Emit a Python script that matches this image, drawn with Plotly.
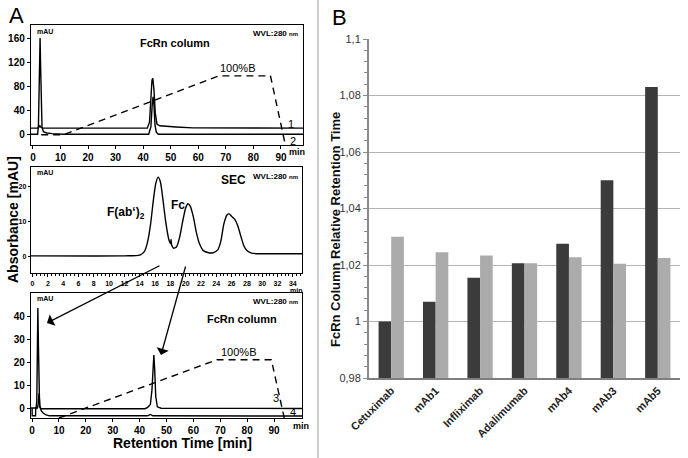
import plotly.graph_objects as go

W, H = 688, 458

# ---- panel A, top chromatogram (FcRn column), times in min, absorbance in mAU
top1_t = [-0.7, 1.8, 2.2, 2.5, 2.8, 3.3, 4.0, 41.5, 42.3, 42.8, 43.2, 43.5, 43.9, 44.4, 45.0, 46.0, 48.0, 52.0, 58.0, 98.0]
top1_v = [10, 10, 12, 14, 12, 10.5, 10, 10, 20, 60, 90, 93, 75, 35, 17, 14, 13, 12, 10.5, 10]
top2_t = [-0.7, 1.7, 2.0, 2.2, 2.4, 2.6, 2.8, 3.0, 3.3, 3.8, 5.0, 7.0, 9.0, 11.0, 42.0, 42.8, 43.3, 43.6, 43.9, 44.3, 44.8, 45.5, 98.0]
top2_v = [0, 0, 15, 80, 150, 160, 110, 45, 12, 4, 2, 1, 0.5, 0, 0, 12, 50, 62, 50, 15, 3, 0, 0]
top_grad_t = [3.0, 11.0, 67.4, 86.2, 91.6]
top_grad_v = [-1, -1, 97, 97, -18]

# ---- panel A, middle chromatogram (SEC)
sec_t = [-0.2, 12.0, 14.0, 14.6, 15.0, 15.4, 15.8, 16.1, 16.4, 16.7, 17.0, 17.4, 17.8, 18.05, 18.1, 18.15,
         18.4, 18.8, 19.2, 19.6, 20.0, 20.3, 20.6, 21.0, 21.4, 21.8, 22.3, 23.0, 23.6, 24.2, 24.6, 25.0,
         25.4, 25.7, 26.0, 26.4, 26.8, 27.2, 27.6, 28.0, 28.6, 29.5, 31.0, 35.2]
sec_v = [0.3, 0.3, 0.5, 1.5, 4.0, 9.0, 16.5, 21.0, 22.8, 21.5, 17.0, 10.0, 5.0, 3.8, 5.0, 3.6,
         2.5, 2.8, 5.5, 10.0, 14.0, 15.2, 14.5, 11.5, 7.0, 3.8, 1.8, 1.2, 1.2, 2.0, 4.5, 9.5,
         12.0, 12.3, 11.6, 10.8, 9.0, 6.0, 3.2, 1.8, 1.1, 0.9, 0.9, 0.9]

# ---- panel A, bottom chromatogram (FcRn column)
bot3_t = [-0.4, 1.5, 1.75, 1.95, 2.15, 2.35, 2.55, 2.8, 3.2, 42.0, 43.0, 44.0, 44.6, 45.0, 45.3, 45.6, 46.0, 46.6, 48.0, 100.4]
bot3_v = [0, 0, 3, 25, 43.5, 28, 8, 0.5, -0.3, -0.3, 0.3, 1.5, 8, 18, 23, 17, 5, 0.5, -0.1, -0.2]
bot4_t = [0.0, 0.05, 1.3, 1.35, 2.0, 2.3, 2.6, 2.9, 3.4, 4.2, 5.2, 6.5, 43.0, 44.0, 45.0, 100.4]
bot4_v = [0, -3.4, -3.4, 0, 0, 2, 6.5, 1, -1.2, -2.3, -3.0, -3.4, -3.4, -2.8, -3.4, -3.5]
bot_grad_t = [10.0, 68.8, 89.0, 93.8]
bot_grad_v = [-4.35, 21, 21, -4.35]

# ---- panel B, relative retention times
antibodies = ["Cetuximab", "mAb1", "Infliximab", "Adalimumab", "mAb4", "mAb3", "mAb5"]
rrt_dark = [1.000, 1.007, 1.0155, 1.0206, 1.0275, 1.050, 1.083]
rrt_light = [1.030, 1.0245, 1.0234, 1.0206, 1.0227, 1.0204, 1.0225]


def px(x):
    return x / W


def py(y):
    return 1 - y / H


FONT = "Arial, Liberation Sans, sans-serif"
line_k = dict(color="black", width=1.4)
dash_k = dict(color="black", width=1.4, dash="7px,5px")

fig = go.Figure()
fig.add_trace(go.Scatter(x=top1_t, y=top1_v, mode="lines", line=line_k, xaxis="x", yaxis="y"))
fig.add_trace(go.Scatter(x=top2_t, y=top2_v, mode="lines", line=line_k, xaxis="x", yaxis="y"))
fig.add_trace(go.Scatter(x=top_grad_t, y=top_grad_v, mode="lines", line=dash_k, xaxis="x", yaxis="y"))
fig.add_trace(go.Scatter(x=sec_t, y=sec_v, mode="lines", line=dict(color="black", width=1.4, shape="spline", smoothing=0.6),
                         xaxis="x2", yaxis="y2"))
fig.add_trace(go.Scatter(x=bot3_t, y=bot3_v, mode="lines", line=line_k, xaxis="x3", yaxis="y3"))
fig.add_trace(go.Scatter(x=bot4_t, y=bot4_v, mode="lines", line=line_k, xaxis="x3", yaxis="y3"))
fig.add_trace(go.Scatter(x=bot_grad_t, y=bot_grad_v, mode="lines", line=dash_k, xaxis="x3", yaxis="y3"))

fig.add_trace(go.Bar(x=antibodies, y=[v - 0.98 for v in rrt_dark], base=0.98, marker=dict(color="#3b3b3b", line=dict(width=0)),
                     xaxis="x4", yaxis="y4"))
fig.add_trace(go.Bar(x=antibodies, y=[v - 0.98 for v in rrt_light], base=0.98, marker=dict(color="#ababab", line=dict(width=0)),
                     xaxis="x4", yaxis="y4"))

bold_tick = dict(family=FONT, size=10, color="black", weight="bold")
box = dict(showline=True, mirror=True, linecolor="black", linewidth=1.4, showgrid=False, zeroline=False,
           ticks="outside", ticklen=3, tickcolor="black", tickfont=bold_tick)

fig.update_layout(
    width=W, height=H, margin=dict(l=0, r=0, t=0, b=0, autoexpand=False),
    paper_bgcolor="white", plot_bgcolor="white", showlegend=False,
    barmode="group", bargap=0.43, bargroupgap=0, separators=",.",
    font=dict(family=FONT),
    xaxis=dict(domain=[px(31), px(303)], range=[-0.7, 98], tickvals=list(range(0, 100, 10)), anchor="y", **box),
    yaxis=dict(domain=[py(145), py(25)], range=[-18, 181.7], tickvals=[0, 40, 80, 120, 160], anchor="x", **box),
    xaxis2=dict(domain=[px(31), px(302)], range=[-0.2, 35.2], tickvals=list(range(0, 35, 2)), anchor="y2",
                minor=dict(dtick=0.5, ticks="outside", ticklen=2, tickcolor="black"),
                **{**box, "tickfont": dict(family=FONT, size=7, color="black", weight="bold")}),
    yaxis2=dict(domain=[py(273), py(167)], range=[-4.6, 25.7], tickvals=[0, 10, 20], anchor="x2",
                **{**box, "ticklen": 2, "tickfont": dict(family=FONT, size=7, color="black", weight="bold")}),
    xaxis3=dict(domain=[px(31), px(302)], range=[-0.4, 100.4], tickvals=list(range(0, 100, 10)), anchor="y3", **box),
    yaxis3=dict(domain=[py(418), py(293)], range=[-4.35, 50], tickvals=[0, 10, 20, 30, 40], anchor="x3", **box),
    xaxis4=dict(domain=[px(369), px(680)], anchor="y4", showline=True, linecolor="#7f7f7f", linewidth=2,
                tickangle=-45, ticks="", tickfont=dict(family=FONT, size=11, color="#222", weight="bold")),
    yaxis4=dict(domain=[py(378), py(39)], range=[0.98, 1.1], dtick=0.02, anchor="x4", showline=True,
                linecolor="#8a8a8a", linewidth=2, showgrid=True, gridcolor="#b4b4b4", gridwidth=1,
                zeroline=False, ticks="outside", ticklen=4, tickcolor="#8a8a8a",
                minor=dict(dtick=0.004, ticks="outside", ticklen=3, tickcolor="#8a8a8a", showgrid=False),
                tickfont=dict(family=FONT, size=11, color="#333")),
)

ann = []


def txt(x, y, s, size=10, bold=False, xanchor="center", angle=0, color="black"):
    ann.append(dict(x=px(x), y=py(y), xref="paper", yref="paper", text=s, showarrow=False, xanchor=xanchor,
                    yanchor="middle", textangle=angle,
                    font=dict(family=FONT, size=size, color=color, weight="bold" if bold else "normal")))


wvl = "WVL:280 <span style='font-size:6px'>nm</span>"
# panel letters
txt(16, 15, "A", size=22)
txt(339, 17, "B", size=22)
# top panel
txt(35, 32, "mAU", size=7, bold=True, xanchor="left")
txt(300, 33, wvl, size=8, bold=True, xanchor="right")
txt(175, 43, "FcRn column", size=11, bold=True)
txt(237, 68, "100%B", size=11)
txt(291, 124, "1", size=11)
txt(293, 141, "2", size=11)
txt(297, 152, "min", size=9, bold=True)
# middle panel
txt(35, 172, "mAU", size=7, bold=True, xanchor="left")
txt(300, 176, wvl, size=8, bold=True, xanchor="right")
txt(233, 180, "SEC", size=12, bold=True)
txt(126, 213, "F(ab‘)<sub>2</sub>", size=12, bold=True)
txt(178, 205, "Fc", size=12, bold=True)
txt(296, 290, "min", size=7, bold=True)
# bottom panel
txt(35, 298, "mAU", size=7, bold=True, xanchor="left")
txt(300, 301, wvl, size=8, bold=True, xanchor="right")
txt(242, 319, "FcRn column", size=11, bold=True)
txt(238, 352, "100%B", size=11)
txt(276, 398, "3", size=11)
txt(293, 412, "4", size=11)
txt(301, 426, "min", size=9, bold=True)
# axis titles
txt(13, 220, "Absorbance [mAU]", size=14, bold=True, angle=-90)
txt(182, 443, "Retention Time [min]", size=14, bold=True)
txt(336, 230, "FcRn Column Relative Retention Time", size=13, bold=True, angle=-90, color="#111")

# arrows from the SEC fractions to the FcRn run
for (hx, hy, tx, ty) in [(47, 323, 161, 265), (161, 355, 186, 265)]:
    ann.append(dict(x=px(hx), y=py(hy), xref="paper", yref="paper", ax=tx - hx, ay=ty - hy,
                    axref="pixel", ayref="pixel", text="", showarrow=True, arrowhead=1, arrowsize=1.6,
                    arrowwidth=1.3, arrowcolor="black"))

fig.update_layout(annotations=ann)
fig.add_shape(type="line", xref="paper", yref="paper", x0=px(318), x1=px(318), y0=0, y1=1,
              line=dict(color="#9a9a9a", width=1))

fig.write_html("out.html", config={"displayModeBar": False},
               post_script="document.body.style.margin='0';")
